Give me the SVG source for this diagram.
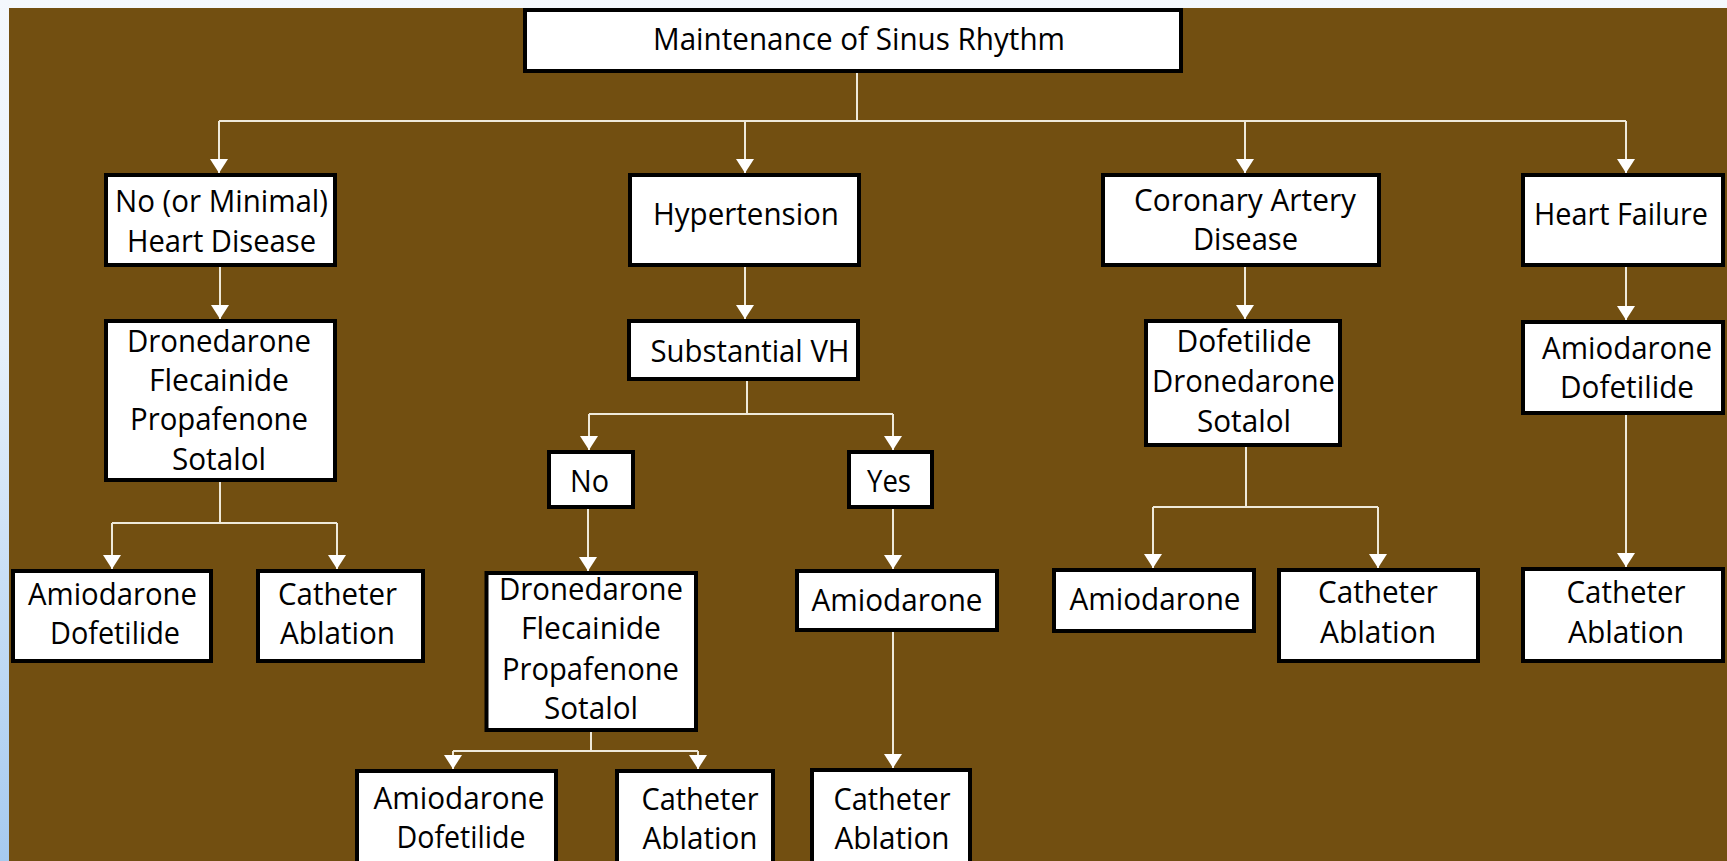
<svg xmlns="http://www.w3.org/2000/svg" width="1727" height="861" viewBox="0 0 1727 861">
<defs>
<linearGradient id="bg" x1="0" y1="0" x2="0" y2="1">
<stop offset="0" stop-color="#F4F8FD"/>
<stop offset="0.4" stop-color="#E6F0FA"/>
<stop offset="1" stop-color="#A6CAEF"/>
</linearGradient>
<marker id="arr" viewBox="0 0 14 18" refX="14" refY="9" markerWidth="14" markerHeight="18" markerUnits="userSpaceOnUse" orient="auto">
<path d="M0,0 L14,9 L0,18 z" fill="#FFFFFF"/>
</marker>
<style>
.box{fill:#FFFFFF;stroke:#000000;stroke-width:4}
.t{font-family:"Open Sans","Noto Sans","Liberation Sans",sans-serif;font-size:31px;fill:#000000;text-anchor:middle}
.c{fill:none;stroke:#EFE9D9;stroke-width:2}
.a{marker-end:url(#arr)}
</style>
</defs>
<rect x="0" y="0" width="1727" height="861" fill="url(#bg)"/>
<rect x="9" y="8" width="1718" height="853" fill="#724F11"/>

<g id="connectors">
<path class="c" d="M857,73 V121 M219,121 H1626"/>
<path class="c a" d="M219,121 V173"/>
<path class="c a" d="M745,121 V173"/>
<path class="c a" d="M1245,121 V173"/>
<path class="c a" d="M1626,121 V173"/>
<path class="c a" d="M220,267 V319"/>
<path class="c" d="M220,482 V523 M112,523 H337"/>
<path class="c a" d="M112,523 V569"/>
<path class="c a" d="M337,523 V569"/>
<path class="c a" d="M745,267 V319"/>
<path class="c" d="M747,381 V414 M589,414 H893"/>
<path class="c a" d="M589,414 V450"/>
<path class="c a" d="M893,414 V450"/>
<path class="c a" d="M588,509 V571"/>
<path class="c a" d="M893,509 V569"/>
<path class="c" d="M591,732 V751 M453,751 H698"/>
<path class="c a" d="M453,751 V769"/>
<path class="c a" d="M698,751 V769"/>
<path class="c a" d="M893,632 V768"/>
<path class="c a" d="M1245,267 V319"/>
<path class="c" d="M1246,447 V507 M1153,507 H1378"/>
<path class="c a" d="M1153,507 V568"/>
<path class="c a" d="M1378,507 V568"/>
<path class="c a" d="M1626,267 V320"/>
<path class="c a" d="M1626,415 V567"/>
</g>

<g id="root">
<rect class="box" x="525" y="10" width="656" height="61"/>
<text class="t" x="859" y="50" textLength="412" lengthAdjust="spacingAndGlyphs">Maintenance of Sinus Rhythm</text>
</g>
<g id="noHD">
<rect class="box" x="106" y="175" width="229" height="90"/>
<text class="t" x="221.5" y="212" textLength="213" lengthAdjust="spacingAndGlyphs">No (or Minimal)</text>
<text class="t" x="221.5" y="252" textLength="189" lengthAdjust="spacingAndGlyphs">Heart Disease</text>
</g>
<g id="hyp">
<rect class="box" x="630" y="175" width="229" height="90"/>
<text class="t" x="746" y="225" textLength="186" lengthAdjust="spacingAndGlyphs">Hypertension</text>
</g>
<g id="cad">
<rect class="box" x="1103" y="175" width="276" height="90"/>
<text class="t" x="1245" y="211" textLength="222" lengthAdjust="spacingAndGlyphs">Coronary Artery</text>
<text class="t" x="1245.5" y="250" textLength="105" lengthAdjust="spacingAndGlyphs">Disease</text>
</g>
<g id="hf">
<rect class="box" x="1523" y="175" width="200" height="90"/>
<text class="t" x="1621" y="225" textLength="174" lengthAdjust="spacingAndGlyphs">Heart Failure</text>
</g>
<g id="drug1">
<rect class="box" x="106" y="321" width="229" height="159"/>
<text class="t" x="219" y="352" textLength="184" lengthAdjust="spacingAndGlyphs">Dronedarone</text>
<text class="t" x="219" y="391" textLength="140" lengthAdjust="spacingAndGlyphs">Flecainide</text>
<text class="t" x="219" y="430" textLength="178" lengthAdjust="spacingAndGlyphs">Propafenone</text>
<text class="t" x="219" y="470" textLength="94" lengthAdjust="spacingAndGlyphs">Sotalol</text>
</g>
<g id="svh">
<rect class="box" x="629" y="321" width="229" height="58"/>
<text class="t" x="750" y="362" textLength="199" lengthAdjust="spacingAndGlyphs">Substantial VH</text>
</g>
<g id="no">
<rect class="box" x="549" y="452" width="84" height="55"/>
<text class="t" x="589.5" y="492" textLength="39" lengthAdjust="spacingAndGlyphs">No</text>
</g>
<g id="yes">
<rect class="box" x="849" y="452" width="83" height="55"/>
<text class="t" x="889" y="492" textLength="44" lengthAdjust="spacingAndGlyphs">Yes</text>
</g>
<g id="cadDrug">
<rect class="box" x="1146" y="321" width="194" height="124"/>
<text class="t" x="1244" y="352" textLength="135" lengthAdjust="spacingAndGlyphs">Dofetilide</text>
<text class="t" x="1243.5" y="392" textLength="183" lengthAdjust="spacingAndGlyphs">Dronedarone</text>
<text class="t" x="1244" y="432" textLength="94" lengthAdjust="spacingAndGlyphs">Sotalol</text>
</g>
<g id="hfDrug">
<rect class="box" x="1523" y="322" width="200" height="91"/>
<text class="t" x="1627" y="359" textLength="170" lengthAdjust="spacingAndGlyphs">Amiodarone</text>
<text class="t" x="1627" y="398" textLength="134" lengthAdjust="spacingAndGlyphs">Dofetilide</text>
</g>
<g id="amioDofe1">
<rect class="box" x="13" y="571" width="198" height="90"/>
<text class="t" x="112.5" y="605" textLength="169" lengthAdjust="spacingAndGlyphs">Amiodarone</text>
<text class="t" x="115" y="644" textLength="130" lengthAdjust="spacingAndGlyphs">Dofetilide</text>
</g>
<g id="cath1">
<rect class="box" x="258" y="571" width="165" height="90"/>
<text class="t" x="337.5" y="605" textLength="119" lengthAdjust="spacingAndGlyphs">Catheter</text>
<text class="t" x="337.5" y="644" textLength="115" lengthAdjust="spacingAndGlyphs">Ablation</text>
</g>
<g id="drug2">
<rect class="box" x="486.5" y="573" width="209.5" height="157"/>
<text class="t" x="591" y="600" textLength="184" lengthAdjust="spacingAndGlyphs">Dronedarone</text>
<text class="t" x="591" y="639" textLength="140" lengthAdjust="spacingAndGlyphs">Flecainide</text>
<text class="t" x="590.5" y="680" textLength="177" lengthAdjust="spacingAndGlyphs">Propafenone</text>
<text class="t" x="591" y="719" textLength="94" lengthAdjust="spacingAndGlyphs">Sotalol</text>
</g>
<g id="amioYes">
<rect class="box" x="797" y="571" width="200" height="59"/>
<text class="t" x="897" y="611" textLength="171" lengthAdjust="spacingAndGlyphs">Amiodarone</text>
</g>
<g id="cadAmio">
<rect class="box" x="1054" y="570" width="200" height="61"/>
<text class="t" x="1155" y="610" textLength="171" lengthAdjust="spacingAndGlyphs">Amiodarone</text>
</g>
<g id="cadCath">
<rect class="box" x="1279" y="570" width="199" height="91"/>
<text class="t" x="1378" y="603" textLength="120" lengthAdjust="spacingAndGlyphs">Catheter</text>
<text class="t" x="1378" y="643" textLength="116" lengthAdjust="spacingAndGlyphs">Ablation</text>
</g>
<g id="hfCath">
<rect class="box" x="1523" y="569" width="200" height="92"/>
<text class="t" x="1626" y="603" textLength="119" lengthAdjust="spacingAndGlyphs">Catheter</text>
<text class="t" x="1626" y="643" textLength="116" lengthAdjust="spacingAndGlyphs">Ablation</text>
</g>
<g id="amioDofe2">
<rect class="box" x="357" y="771" width="199" height="110"/>
<text class="t" x="459" y="809" textLength="171" lengthAdjust="spacingAndGlyphs">Amiodarone</text>
<text class="t" x="461" y="848" textLength="129" lengthAdjust="spacingAndGlyphs">Dofetilide</text>
</g>
<g id="cath2">
<rect class="box" x="617" y="771" width="156" height="110"/>
<text class="t" x="700" y="810" textLength="117" lengthAdjust="spacingAndGlyphs">Catheter</text>
<text class="t" x="700" y="849" textLength="115" lengthAdjust="spacingAndGlyphs">Ablation</text>
</g>
<g id="cath3">
<rect class="box" x="812" y="770" width="158" height="111"/>
<text class="t" x="892" y="810" textLength="117" lengthAdjust="spacingAndGlyphs">Catheter</text>
<text class="t" x="892" y="849" textLength="115" lengthAdjust="spacingAndGlyphs">Ablation</text>
</g>
</svg>
